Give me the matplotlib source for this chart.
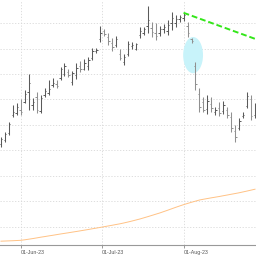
import numpy as np
import pandas as pd
import matplotlib
matplotlib.use("Agg")
import matplotlib.pyplot as plt
from matplotlib.patches import Ellipse

# trading days (US calendar), 24-May-23 .. 25-Aug-23
holidays = ["2023-05-29", "2023-06-19", "2023-07-04"]
dates = pd.bdate_range("2023-05-24", "2023-08-25", freq="C", holidays=holidays)

high = [117.65, 118.63, 120.59, 123.92, 124.31, 125.10, 126.86, 130.00, 125.29, 126.47,
        125.88, 127.25, 128.82, 129.22, 128.82, 131.37, 132.16, 130.98, 130.59, 132.16,
        132.55, 132.94, 133.33, 135.10, 135.10, 139.41, 138.82, 138.04, 137.06, 137.45,
        134.90, 133.92, 136.47, 136.27, 136.08, 139.22, 139.22, 143.33, 140.20, 140.00,
        139.41, 139.80, 140.59, 142.16, 141.57, 141.57, 141.96, 140.20, 137.06, 132.35,
        127.25, 125.49, 125.88, 125.49, 123.53, 124.51, 124.71, 123.53, 122.55, 120.00,
        121.37, 122.55, 126.47, 125.88, 124.31]
low = [115.69, 116.67, 118.04, 121.57, 121.96, 121.96, 124.31, 122.94, 122.94, 122.35,
       122.35, 125.49, 125.88, 127.45, 127.25, 128.82, 129.61, 129.41, 127.84, 129.02,
       130.39, 130.78, 130.78, 132.75, 134.12, 136.27, 137.45, 135.69, 134.51, 135.29,
       132.75, 131.76, 133.53, 134.90, 134.71, 137.06, 137.65, 138.04, 137.25, 136.67,
       137.45, 138.04, 137.65, 138.63, 139.22, 140.20, 140.39, 137.25, 136.08, 126.86,
       122.55, 122.55, 122.16, 122.55, 121.96, 121.76, 122.16, 121.37, 118.63, 116.67,
       119.02, 121.37, 123.33, 120.98, 121.37]
open_ = [116.2, 117.0, 118.5, 122.0, 122.4, 123.0, 124.6, 126.5, 124.0, 125.5,
         122.8, 125.8, 126.2, 127.8, 128.0, 129.2, 130.0, 130.4, 128.5, 129.8,
         131.6, 131.0, 131.5, 133.2, 134.5, 136.8, 138.5, 137.2, 136.0, 135.6,
         134.0, 132.4, 134.0, 135.4, 135.0, 137.6, 138.0, 139.5, 139.0, 138.0,
         138.0, 138.8, 138.4, 140.0, 140.0, 140.8, 141.0, 139.5, 136.8, 131.5,
         126.0, 124.5, 123.2, 124.2, 122.6, 123.4, 122.8, 123.0, 121.6, 118.8,
         119.5, 121.8, 123.8, 125.0, 122.0]
close = [117.2, 118.2, 120.2, 122.5, 123.5, 122.5, 126.0, 128.2, 124.6, 123.0,
         125.2, 126.6, 127.0, 128.3, 127.6, 131.0, 131.6, 129.8, 130.2, 131.2,
         130.9, 132.2, 132.8, 134.5, 134.8, 138.0, 137.8, 136.4, 135.2, 136.8,
         133.2, 133.4, 135.8, 135.7, 135.8, 138.4, 138.8, 140.6, 138.2, 137.4,
         138.8, 139.2, 139.6, 141.0, 140.8, 141.2, 141.6, 138.0, 136.5, 128.0,
         123.5, 123.0, 124.8, 123.4, 123.0, 122.4, 124.0, 122.0, 119.5, 117.6,
         120.8, 122.0, 125.6, 121.8, 123.6]
# long moving average
ma = [97.22, 97.25, 97.28, 97.31, 97.35, 97.39, 97.49, 97.61, 97.73, 97.86,
      98.00, 98.12, 98.25, 98.37, 98.50, 98.63, 98.75, 98.87, 99.00, 99.12,
      99.25, 99.38, 99.51, 99.65, 99.78, 99.92, 100.06, 100.20, 100.34, 100.49,
      100.63, 100.80, 100.98, 101.17, 101.37, 101.57, 101.80, 102.03, 102.27, 102.51,
      102.75, 103.02, 103.29, 103.57, 103.85, 104.12, 104.38, 104.62, 104.85, 105.07,
      105.29, 105.44, 105.58, 105.72, 105.85, 105.98, 106.13, 106.27, 106.42, 106.56,
      106.71, 106.88, 107.05, 107.23, 107.41]

# trend line from the 01-Aug high, and the gap highlight
trend_x = [46, 70]
trend_y = [142.0, 135.2]
gap_center = (48.4, 133.7)
gap_size = (5.0, 7.1)

tick_dates = ["2023-06-01", "2023-07-01", "2023-08-01"]
tick_labels = ["01-Jun-23", "01-Jul-23", "01-Aug-23"]

x = np.arange(len(dates))
high, low, open_, close = map(np.array, (high, low, open_, close))

fig = plt.figure(figsize=(2.56, 2.56), dpi=100)
ax = fig.add_axes([0, 11 / 256, 1, 245 / 256])

ax.add_patch(Ellipse(gap_center, gap_size[0], gap_size[1],
                     facecolor="#c8f3fa", edgecolor="none", zorder=1))

up = close >= open_
cols = np.where(up, "#5a5a5a", "#909090")
ax.vlines(x, low, high, colors=cols, linewidth=0.75, zorder=3)
ax.hlines(open_, x - 0.35, x, colors=cols, linewidth=0.7, zorder=3)
ax.hlines(close, x, x + 0.35, colors=cols, linewidth=0.7, zorder=3)

ax.plot(x, ma, color="#ffc285", linewidth=0.7, zorder=2)
ax.plot(trend_x, trend_y, color="#33e619", linewidth=1.4,
        linestyle=(0, (3, 1.5)), zorder=4)

# month ticks on the trading-day index
dnum = dates.values.astype("datetime64[D]").astype(float)
tnum = pd.to_datetime(tick_dates).values.astype("datetime64[D]").astype(float)
tpos = np.interp(tnum, dnum, x)

ax.set_xlim(-0.25, 64.25)
ax.set_ylim(96.47, 144.51)
ax.set_yticks(np.arange(100, 141, 5))
ax.set_xticks(tpos)
ax.set_xticklabels(tick_labels, ha="left", fontsize=3.8, color="#555555",
                   family=["Liberation Sans", "DejaVu Sans"])
ax.tick_params(axis="x", length=2.5, width=0.6, color="#888888", pad=1)
ax.tick_params(axis="y", left=False, labelleft=False)
ax.grid(True, color="#d8d8d8", linestyle=(0, (1.5, 2)), linewidth=0.6)
ax.set_axisbelow(True)
for s in ["left", "right", "top"]:
    ax.spines[s].set_visible(False)
ax.spines["bottom"].set_color("#999999")
ax.spines["bottom"].set_linewidth(0.8)

fig.savefig("out.png", dpi=100)
